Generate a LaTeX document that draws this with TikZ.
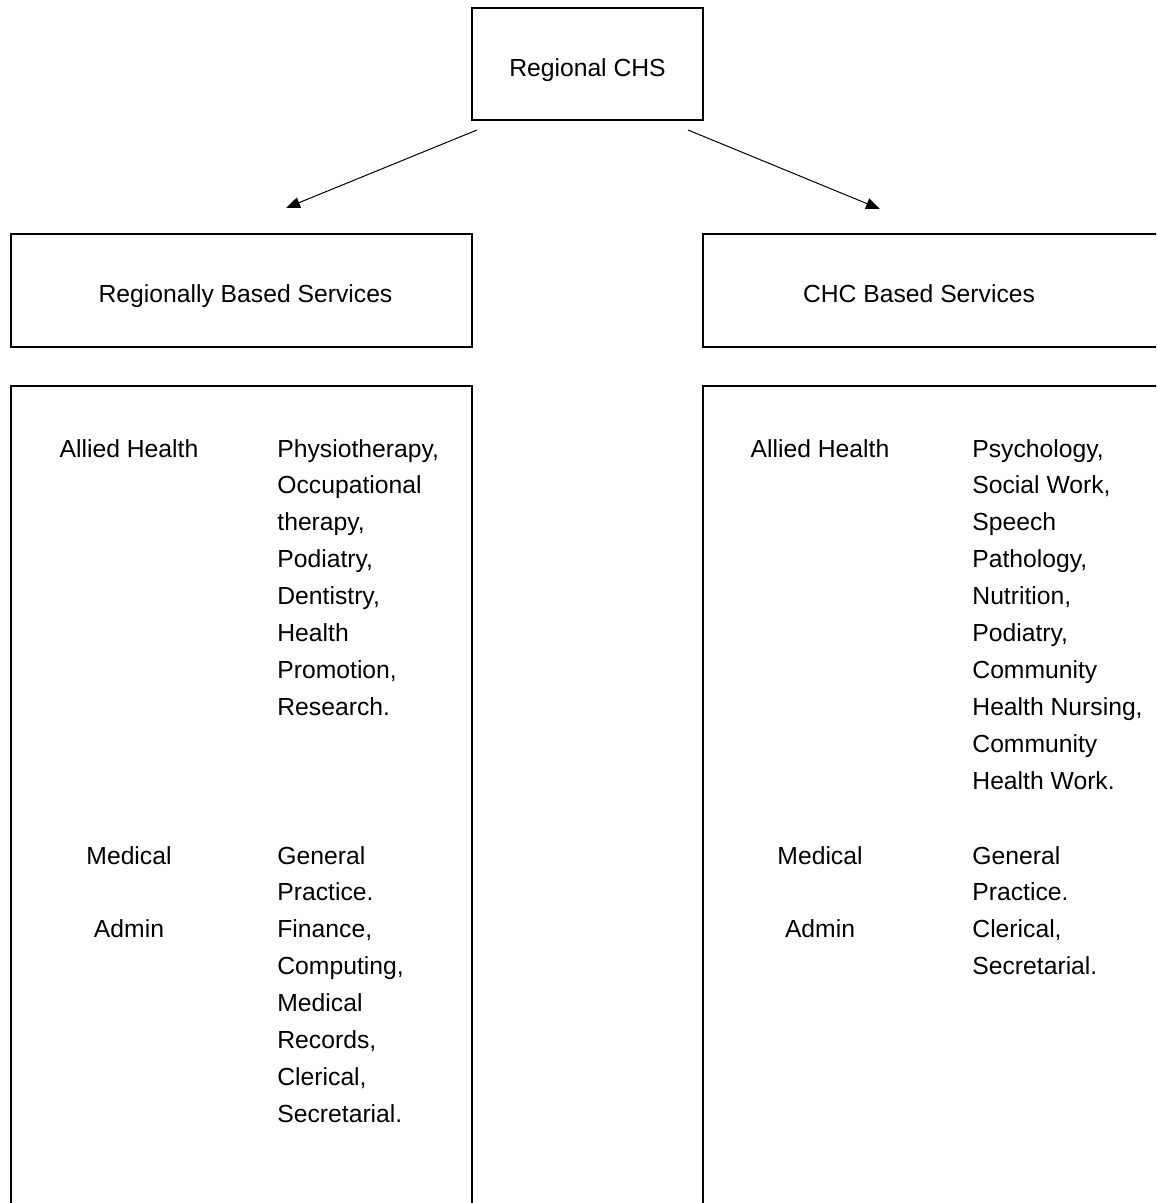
\documentclass[tikz,border=0pt]{standalone}
\usepackage{fontspec}
\setmainfont{Liberation Sans}
\usepackage{tikz}
\usetikzlibrary{positioning,arrows.meta}
\tikzset{
box/.style={draw, line width=1pt},
link/.style={line width=0.5pt, -{Triangle[length=7pt,width=5.5pt]}},
label/.style={inner sep=0pt, font=\fontsize{12.35}{18.45}\selectfont},
group/.style={label, anchor=base, align=center},
items/.style={label, anchor=base west, align=left}
}
% baseline of the last line of a list: first baseline + (lines-1) x 36.9
\newcommand{\lastline}[2]{#1+#2*36.9}

\begin{document}
\begin{tikzpicture}[x=0.5pt, y=-0.5pt]
\useasboundingbox (0,0) rectangle (1156,1203);
\clip (0,0) rectangle (1156,1203);
% boxes
\draw[box] (472,8) rectangle (703,120);
\draw[box] (11,234) rectangle (472,347)
    (703,234) rectangle (1180,347);
\draw[box] (11,386) rectangle (472,1230)
    (703,386) rectangle (1180,1230);
% headings
\node[label, anchor=base] (chs) at (587.5,77) {Regional CHS};
\node[label, anchor=base] (regional) at (245.5,303) {Regionally Based Services};
\node[label, anchor=base] (chc) at (919,303) {CHC Based Services};
% arrows
\coordinate (chsL) at (477,130);
\coordinate (chsR) at (688,130);
\coordinate (regionalTip) at (286,208);
\coordinate (chcTip) at (880,209);
\draw[link] (chsL) -- (regionalTip);
\draw[link] (chsR) -- (chcTip);
% left column
\node[group] (lAllied) at (129,457) {Allied Health};
\node[items] (lAlliedList) at (277,{\lastline{457}{7}}) {Physiotherapy,\\Occupational\\therapy,\\Podiatry,\\Dentistry,\\Health\\Promotion,\\Research.};
\node[group] (lMedical) at (129,864) {Medical};
\node[items] (lMedicalList) at (277,{\lastline{864}{1}}) {General\\Practice.};
\node[group] (lAdmin) at (129,937.5) {Admin};
\node[items] (lAdminList) at (277,{\lastline{937.5}{5}}) {Finance,\\Computing,\\Medical\\Records,\\Clerical,\\Secretarial.};
% right column
\node[group] (rAllied) at (820,457) {Allied Health};
\node[items] (rAlliedList) at (972,{\lastline{457}{9}}) {Psychology,\\Social Work,\\Speech\\Pathology,\\Nutrition,\\Podiatry,\\Community\\Health Nursing,\\Community\\Health Work.};
\node[group] (rMedical) at (820,864) {Medical};
\node[items] (rMedicalList) at (972,{\lastline{864}{1}}) {General\\Practice.};
\node[group] (rAdmin) at (820,937.5) {Admin};
\node[items] (rAdminList) at (972,{\lastline{937.5}{1}}) {Clerical,\\Secretarial.};
\end{tikzpicture}
\end{document}
